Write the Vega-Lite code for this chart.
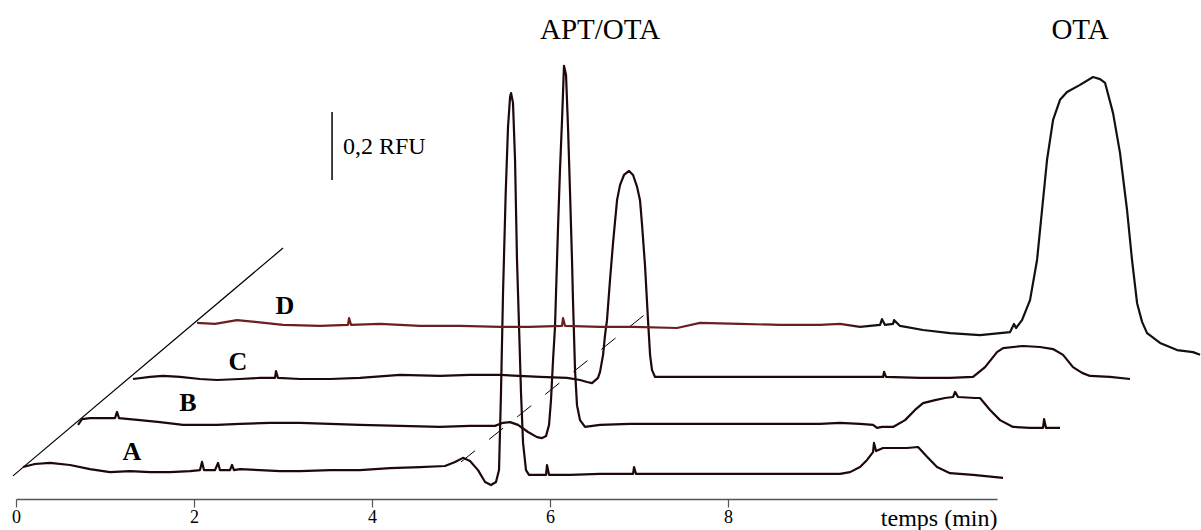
{
"$schema":"https://vega.github.io/schema/vega-lite/v6.json",
"width":981,"height":493,
"autosize":{"type":"none"},
"padding":{"left":16,"top":6,"right":204,"bottom":31},
"background":"white",
"config":{"view":{"stroke":null}},
"datasets":{
"traces":[
{"trace":"A","t":0.079,"v":0.094},{"trace":"A","t":0.213,"v":0.103},{"trace":"A","t":0.382,"v":0.106},{"trace":"A","t":0.607,"v":0.100},{"trace":"A","t":0.831,"v":0.088},{"trace":"A","t":1.056,"v":0.079},{"trace":"A","t":1.281,"v":0.082},{"trace":"A","t":1.506,"v":0.079},{"trace":"A","t":1.730,"v":0.079},{"trace":"A","t":1.955,"v":0.082},{"trace":"A","t":2.067,"v":0.085},{"trace":"A","t":2.090,"v":0.109},{"trace":"A","t":2.112,"v":0.085},{"trace":"A","t":2.236,"v":0.085},{"trace":"A","t":2.270,"v":0.106},{"trace":"A","t":2.292,"v":0.085},{"trace":"A","t":2.404,"v":0.085},{"trace":"A","t":2.427,"v":0.100},{"trace":"A","t":2.449,"v":0.085},{"trace":"A","t":2.517,"v":0.088},{"trace":"A","t":2.742,"v":0.085},{"trace":"A","t":2.966,"v":0.082},{"trace":"A","t":3.191,"v":0.082},{"trace":"A","t":3.528,"v":0.085},{"trace":"A","t":3.865,"v":0.085},{"trace":"A","t":4.202,"v":0.091},{"trace":"A","t":4.539,"v":0.094},{"trace":"A","t":4.820,"v":0.097},{"trace":"A","t":4.933,"v":0.109},{"trace":"A","t":5.022,"v":0.121},{"trace":"A","t":5.101,"v":0.112},{"trace":"A","t":5.191,"v":0.085},{"trace":"A","t":5.270,"v":0.050},{"trace":"A","t":5.337,"v":0.041},{"trace":"A","t":5.393,"v":0.050},{"trace":"A","t":5.427,"v":0.085},{"trace":"A","t":5.449,"v":0.312},{"trace":"A","t":5.472,"v":0.606},{"trace":"A","t":5.502,"v":0.900},{"trace":"A","t":5.528,"v":1.094},{"trace":"A","t":5.551,"v":1.182},{"trace":"A","t":5.562,"v":1.194},{"trace":"A","t":5.584,"v":1.165},{"trace":"A","t":5.607,"v":0.997},{"trace":"A","t":5.629,"v":0.703},{"trace":"A","t":5.652,"v":0.506},{"trace":"A","t":5.674,"v":0.312},{"trace":"A","t":5.697,"v":0.165},{"trace":"A","t":5.730,"v":0.085},{"trace":"A","t":5.764,"v":0.071},{"trace":"A","t":5.831,"v":0.071},{"trace":"A","t":5.955,"v":0.071},{"trace":"A","t":5.966,"v":0.100},{"trace":"A","t":5.989,"v":0.071},{"trace":"A","t":6.225,"v":0.071},{"trace":"A","t":6.562,"v":0.074},{"trace":"A","t":6.933,"v":0.074},{"trace":"A","t":6.944,"v":0.094},{"trace":"A","t":6.966,"v":0.074},{"trace":"A","t":7.461,"v":0.074},{"trace":"A","t":7.910,"v":0.074},{"trace":"A","t":8.360,"v":0.074},{"trace":"A","t":8.809,"v":0.074},{"trace":"A","t":9.258,"v":0.074},{"trace":"A","t":9.371,"v":0.079},{"trace":"A","t":9.483,"v":0.094},{"trace":"A","t":9.562,"v":0.115},{"trace":"A","t":9.629,"v":0.138},{"trace":"A","t":9.640,"v":0.165},{"trace":"A","t":9.663,"v":0.141},{"trace":"A","t":9.742,"v":0.150},{"trace":"A","t":10.011,"v":0.150},{"trace":"A","t":10.135,"v":0.153},{"trace":"A","t":10.236,"v":0.124},{"trace":"A","t":10.348,"v":0.094},{"trace":"A","t":10.494,"v":0.076},{"trace":"A","t":10.753,"v":0.071},{"trace":"A","t":11.090,"v":0.062},
{"trace":"B","t":0.697,"v":0.218},{"trace":"B","t":0.742,"v":0.235},{"trace":"B","t":0.831,"v":0.238},{"trace":"B","t":0.944,"v":0.238},{"trace":"B","t":1.112,"v":0.238},{"trace":"B","t":1.135,"v":0.256},{"trace":"B","t":1.157,"v":0.238},{"trace":"B","t":1.393,"v":0.232},{"trace":"B","t":1.618,"v":0.226},{"trace":"B","t":1.876,"v":0.218},{"trace":"B","t":2.067,"v":0.218},{"trace":"B","t":2.258,"v":0.218},{"trace":"B","t":2.517,"v":0.221},{"trace":"B","t":2.854,"v":0.224},{"trace":"B","t":3.191,"v":0.224},{"trace":"B","t":3.528,"v":0.221},{"trace":"B","t":3.865,"v":0.218},{"trace":"B","t":4.315,"v":0.215},{"trace":"B","t":4.764,"v":0.212},{"trace":"B","t":5.101,"v":0.215},{"trace":"B","t":5.382,"v":0.215},{"trace":"B","t":5.472,"v":0.224},{"trace":"B","t":5.551,"v":0.226},{"trace":"B","t":5.640,"v":0.218},{"trace":"B","t":5.753,"v":0.197},{"trace":"B","t":5.854,"v":0.182},{"trace":"B","t":5.910,"v":0.179},{"trace":"B","t":5.955,"v":0.185},{"trace":"B","t":5.989,"v":0.218},{"trace":"B","t":6.011,"v":0.291},{"trace":"B","t":6.034,"v":0.409},{"trace":"B","t":6.056,"v":0.506},{"trace":"B","t":6.090,"v":0.800},{"trace":"B","t":6.112,"v":0.968},{"trace":"B","t":6.135,"v":1.115},{"trace":"B","t":6.157,"v":1.274},{"trace":"B","t":6.180,"v":1.247},{"trace":"B","t":6.202,"v":1.094},{"trace":"B","t":6.225,"v":0.900},{"trace":"B","t":6.247,"v":0.703},{"trace":"B","t":6.258,"v":0.585},{"trace":"B","t":6.281,"v":0.379},{"trace":"B","t":6.303,"v":0.276},{"trace":"B","t":6.337,"v":0.232},{"trace":"B","t":6.393,"v":0.212},{"trace":"B","t":6.562,"v":0.218},{"trace":"B","t":6.899,"v":0.221},{"trace":"B","t":7.236,"v":0.221},{"trace":"B","t":7.685,"v":0.221},{"trace":"B","t":8.135,"v":0.221},{"trace":"B","t":8.584,"v":0.221},{"trace":"B","t":9.034,"v":0.221},{"trace":"B","t":9.258,"v":0.224},{"trace":"B","t":9.483,"v":0.221},{"trace":"B","t":9.629,"v":0.218},{"trace":"B","t":9.674,"v":0.209},{"trace":"B","t":9.730,"v":0.212},{"trace":"B","t":9.854,"v":0.212},{"trace":"B","t":9.989,"v":0.232},{"trace":"B","t":10.101,"v":0.262},{"trace":"B","t":10.191,"v":0.282},{"trace":"B","t":10.326,"v":0.291},{"trace":"B","t":10.438,"v":0.297},{"trace":"B","t":10.528,"v":0.300},{"trace":"B","t":10.551,"v":0.315},{"trace":"B","t":10.584,"v":0.300},{"trace":"B","t":10.775,"v":0.297},{"trace":"B","t":10.831,"v":0.297},{"trace":"B","t":10.944,"v":0.262},{"trace":"B","t":11.056,"v":0.232},{"trace":"B","t":11.202,"v":0.212},{"trace":"B","t":11.393,"v":0.209},{"trace":"B","t":11.539,"v":0.209},{"trace":"B","t":11.551,"v":0.235},{"trace":"B","t":11.573,"v":0.209},{"trace":"B","t":11.730,"v":0.209},
{"trace":"C","t":1.315,"v":0.353},{"trace":"C","t":1.506,"v":0.359},{"trace":"C","t":1.652,"v":0.362},{"trace":"C","t":1.843,"v":0.359},{"trace":"C","t":2.067,"v":0.353},{"trace":"C","t":2.258,"v":0.350},{"trace":"C","t":2.517,"v":0.353},{"trace":"C","t":2.742,"v":0.356},{"trace":"C","t":2.910,"v":0.356},{"trace":"C","t":2.921,"v":0.376},{"trace":"C","t":2.944,"v":0.356},{"trace":"C","t":3.191,"v":0.353},{"trace":"C","t":3.528,"v":0.353},{"trace":"C","t":3.865,"v":0.356},{"trace":"C","t":4.315,"v":0.365},{"trace":"C","t":4.764,"v":0.362},{"trace":"C","t":5.101,"v":0.365},{"trace":"C","t":5.438,"v":0.365},{"trace":"C","t":5.888,"v":0.359},{"trace":"C","t":6.191,"v":0.356},{"trace":"C","t":6.337,"v":0.350},{"trace":"C","t":6.416,"v":0.344},{"trace":"C","t":6.472,"v":0.341},{"trace":"C","t":6.539,"v":0.356},{"trace":"C","t":6.562,"v":0.374},{"trace":"C","t":6.596,"v":0.424},{"trace":"C","t":6.618,"v":0.482},{"trace":"C","t":6.640,"v":0.526},{"trace":"C","t":6.674,"v":0.644},{"trace":"C","t":6.708,"v":0.753},{"trace":"C","t":6.753,"v":0.879},{"trace":"C","t":6.787,"v":0.924},{"trace":"C","t":6.831,"v":0.953},{"trace":"C","t":6.888,"v":0.965},{"trace":"C","t":6.933,"v":0.953},{"trace":"C","t":6.978,"v":0.918},{"trace":"C","t":7.011,"v":0.879},{"trace":"C","t":7.034,"v":0.806},{"trace":"C","t":7.067,"v":0.688},{"trace":"C","t":7.101,"v":0.526},{"trace":"C","t":7.124,"v":0.424},{"trace":"C","t":7.146,"v":0.379},{"trace":"C","t":7.180,"v":0.359},{"trace":"C","t":7.236,"v":0.359},{"trace":"C","t":7.573,"v":0.359},{"trace":"C","t":7.910,"v":0.359},{"trace":"C","t":8.360,"v":0.359},{"trace":"C","t":8.809,"v":0.359},{"trace":"C","t":9.258,"v":0.359},{"trace":"C","t":9.483,"v":0.359},{"trace":"C","t":9.742,"v":0.359},{"trace":"C","t":9.753,"v":0.374},{"trace":"C","t":9.775,"v":0.359},{"trace":"C","t":10.157,"v":0.356},{"trace":"C","t":10.494,"v":0.356},{"trace":"C","t":10.753,"v":0.359},{"trace":"C","t":10.888,"v":0.388},{"trace":"C","t":11.022,"v":0.432},{"trace":"C","t":11.090,"v":0.444},{"trace":"C","t":11.315,"v":0.450},{"trace":"C","t":11.506,"v":0.447},{"trace":"C","t":11.652,"v":0.441},{"trace":"C","t":11.764,"v":0.424},{"trace":"C","t":11.876,"v":0.388},{"trace":"C","t":11.978,"v":0.371},{"trace":"C","t":12.067,"v":0.362},{"trace":"C","t":12.292,"v":0.359},{"trace":"C","t":12.517,"v":0.353},
{"trace":"D","t":2.034,"v":0.518},{"trace":"D","t":2.236,"v":0.515},{"trace":"D","t":2.483,"v":0.526},{"trace":"D","t":2.685,"v":0.521},{"trace":"D","t":3.000,"v":0.512},{"trace":"D","t":3.416,"v":0.509},{"trace":"D","t":3.730,"v":0.512},{"trace":"D","t":3.742,"v":0.532},{"trace":"D","t":3.764,"v":0.512},{"trace":"D","t":4.090,"v":0.515},{"trace":"D","t":4.539,"v":0.509},{"trace":"D","t":4.989,"v":0.509},{"trace":"D","t":5.438,"v":0.506},{"trace":"D","t":5.775,"v":0.506},{"trace":"D","t":6.135,"v":0.509},{"trace":"D","t":6.146,"v":0.532},{"trace":"D","t":6.169,"v":0.509},{"trace":"D","t":6.562,"v":0.506},{"trace":"D","t":6.933,"v":0.506},{"trace":"D","t":7.427,"v":0.503},{"trace":"D","t":7.685,"v":0.518},{"trace":"D","t":8.135,"v":0.515},{"trace":"D","t":8.584,"v":0.512},{"trace":"D","t":9.034,"v":0.512},{"trace":"D","t":9.258,"v":0.515},{"trace":"D","t":9.483,"v":0.506},{"trace":"D","t":9.708,"v":0.512},{"trace":"D","t":9.730,"v":0.529},{"trace":"D","t":9.764,"v":0.512},{"trace":"D","t":9.854,"v":0.515},{"trace":"D","t":9.865,"v":0.526},{"trace":"D","t":9.933,"v":0.509},{"trace":"D","t":10.191,"v":0.497},{"trace":"D","t":10.494,"v":0.488},{"trace":"D","t":10.831,"v":0.482},{"trace":"D","t":11.056,"v":0.488},{"trace":"D","t":11.169,"v":0.491},{"trace":"D","t":11.213,"v":0.515},{"trace":"D","t":11.236,"v":0.503},{"trace":"D","t":11.303,"v":0.526},{"trace":"D","t":11.393,"v":0.585},{"trace":"D","t":11.472,"v":0.703},{"trace":"D","t":11.528,"v":0.850},{"trace":"D","t":11.584,"v":0.997},{"trace":"D","t":11.652,"v":1.115},{"trace":"D","t":11.730,"v":1.174},{"trace":"D","t":11.809,"v":1.197},{"trace":"D","t":11.955,"v":1.218},{"trace":"D","t":12.101,"v":1.241},{"trace":"D","t":12.180,"v":1.235},{"trace":"D","t":12.236,"v":1.224},{"trace":"D","t":12.326,"v":1.135},{"trace":"D","t":12.404,"v":1.018},{"trace":"D","t":12.483,"v":0.850},{"trace":"D","t":12.539,"v":0.703},{"trace":"D","t":12.596,"v":0.576},{"trace":"D","t":12.652,"v":0.521},{"trace":"D","t":12.708,"v":0.488},{"trace":"D","t":12.854,"v":0.459},{"trace":"D","t":13.045,"v":0.438},{"trace":"D","t":13.225,"v":0.432},{"trace":"D","t":13.303,"v":0.424}
],
"segs":[
{"kind":"diag","t":-0.034,"v":0.068,"t2":3.000,"v2":0.738},
{"kind":"dash","t":5.000,"v":0.109,"t2":7.101,"v2":0.550},
{"kind":"bar","t":3.551,"v":0.938,"t2":3.551,"v2":1.138}
],
"labels":[
{"kind":"trace","text":"A","t":1.303,"v":0.115},
{"kind":"trace","text":"B","t":1.933,"v":0.259},
{"kind":"trace","text":"C","t":2.494,"v":0.379},
{"kind":"trace","text":"D","t":3.022,"v":0.544},
{"kind":"peak","text":"APT/OTA","t":6.562,"v":1.353},
{"kind":"peak","text":"OTA","t":11.955,"v":1.353},
{"kind":"scale","text":"0,2 RFU","t":3.674,"v":1.015}
]
},
"encoding":{
"x":{"field":"t","type":"quantitative","scale":{"domain":[0,11.022],"nice":false,"zero":false},
"axis":{"values":[0,2,4,6,8],"format":"d","grid":false,"title":"temps (min)","titleX":981,"titleY":26,"titleAlign":"right","titleAnchor":"end","titleBaseline":"alphabetic","titleFont":"Liberation Serif","titleFontSize":24,"titleFontWeight":"normal","titleColor":"black","labelFont":"Liberation Serif","labelFontSize":18,"labelColor":"black","labelPadding":1,"labelFlush":false,"tickSize":8,"tickColor":"#555","tickWidth":1.2,"domainColor":"#555","domainWidth":1.5}},
"y":{"field":"v","type":"quantitative","scale":{"domain":[0,1.45],"nice":false,"zero":false},"axis":null}
},
"layer":[
{"data":{"name":"segs"},"transform":[{"filter":"datum.kind==='diag'"}],"mark":{"type":"rule","color":"black","strokeWidth":1.2},"encoding":{"x2":{"field":"t2"},"y2":{"field":"v2"}}},
{"data":{"name":"segs"},"transform":[{"filter":"datum.kind==='dash'"}],"mark":{"type":"rule","color":"black","strokeWidth":1,"strokeDash":[18,18]},"encoding":{"x2":{"field":"t2"},"y2":{"field":"v2"}}},
{"data":{"name":"segs"},"transform":[{"filter":"datum.kind==='bar'"}],"mark":{"type":"rule","color":"black","strokeWidth":1.5},"encoding":{"y2":{"field":"v2"}}},
{"data":{"name":"traces"},"transform":[{"filter":"datum.trace!=='D'"}],"mark":{"type":"line","color":"#1e0808","strokeWidth":2.2,"strokeJoin":"round"},"encoding":{"detail":{"field":"trace"},"order":{"field":"t","type":"quantitative"}}},
{"data":{"name":"traces"},"transform":[{"filter":"datum.trace==='D'"}],"mark":{"type":"line","strokeWidth":2.2,"strokeJoin":"round","color":{"gradient":"linear","x1":0,"x2":1,"y1":0,"y2":0,"stops":[{"offset":0,"color":"#6b1f1f"},{"offset":0.64,"color":"#6b1f1f"},{"offset":0.67,"color":"#111111"},{"offset":1,"color":"#111111"}]}},"encoding":{"order":{"field":"t","type":"quantitative"}}},
{"data":{"name":"labels"},"transform":[{"filter":"datum.kind==='trace'"}],"mark":{"type":"text","font":"Liberation Serif","fontSize":26,"fontWeight":"bold","align":"center","baseline":"alphabetic","color":"black"},"encoding":{"text":{"field":"text"}}},
{"data":{"name":"labels"},"transform":[{"filter":"datum.kind==='peak'"}],"mark":{"type":"text","font":"Liberation Serif","fontSize":29,"align":"center","baseline":"alphabetic","color":"black"},"encoding":{"text":{"field":"text"}}},
{"data":{"name":"labels"},"transform":[{"filter":"datum.kind==='scale'"}],"mark":{"type":"text","font":"Liberation Serif","fontSize":24,"align":"left","baseline":"alphabetic","color":"black"},"encoding":{"text":{"field":"text"}}}
]
}
